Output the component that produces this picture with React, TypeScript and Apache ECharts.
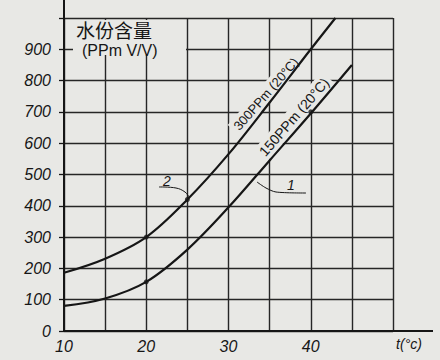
import React, { useEffect, useRef } from "react";
import * as echarts from "echarts";

// curve 2 : 300PPm (20°C)
const tempUpper = [10, 15, 20, 25, 30, 35, 40, 43];
const valueUpper = [186, 231, 300, 420, 565, 730, 900, 1000];
// curve 1 : 150PPm (20°C)
const tempLower = [10, 15, 20, 25, 30, 35, 40, 45];
const valueLower = [80, 104, 157, 260, 395, 545, 695, 850];
// marked points on the curves
const dotsTemp = [20, 25, 20, 40];
const dotsValue = [300, 420, 157, 700];

const xTicks = [10, 20, 30, 40];
const yTicks = [0, 100, 200, 300, 400, 500, 600, 700, 800, 900];

const titleLine1 = "水份含量";
const titleLine2 = "(PPm V/V)";
const upperLabel = "300PPm (20°C)";
const lowerLabel = "150PPm (20°C)";
const xName = "t(°c)";

const PAPER = "#e8e8e5";
const INK = "#161616";
const FONT = "'Liberation Sans', 'DejaVu Sans', sans-serif";

export default function App() {
  const ref = useRef<HTMLDivElement>(null);
  useEffect(() => {
    if (!ref.current) return;
    const chart = echarts.init(ref.current, undefined, { renderer: "svg" });
    const pairs = (xs: number[], ys: number[]) => xs.map((x, i) => [x, ys[i]]);
    chart.setOption({
      animation: false,
      backgroundColor: PAPER,
      grid: { left: 64, right: 47, top: 18, bottom: 29 },
      xAxis: {
        type: "value",
        min: 10,
        max: 50,
        interval: 5,
        axisLine: { show: true, lineStyle: { color: INK, width: 2 } },
        axisTick: { show: false },
        axisLabel: {
          margin: 7,
          color: INK,
          fontSize: 16,
          fontStyle: "italic",
          fontFamily: FONT,
          formatter: (v: number) => (xTicks.includes(v) ? String(v) : ""),
        },
        splitLine: { show: true, lineStyle: { color: "#262626", width: 1.4 } },
      },
      yAxis: {
        type: "value",
        min: 0,
        max: 1000,
        interval: 100,
        axisLine: { show: true, lineStyle: { color: INK, width: 2 } },
        axisTick: { show: true, inside: false, length: 5, lineStyle: { color: INK, width: 1.3 } },
        axisLabel: {
          margin: 13,
          color: INK,
          fontSize: 16,
          fontStyle: "italic",
          fontFamily: FONT,
          formatter: (v: number) => (yTicks.includes(v) ? String(v) : ""),
        },
        splitLine: { show: true, lineStyle: { color: "#262626", width: 1.4 } },
      },
      series: [
        {
          type: "line",
          data: pairs(tempUpper, valueUpper),
          smooth: 0.35,
          showSymbol: false,
          symbol: "none",
          lineStyle: { color: INK, width: 2.2 },
          z: 3,
        },
        {
          type: "line",
          data: pairs(tempLower, valueLower),
          smooth: 0.35,
          showSymbol: false,
          symbol: "none",
          lineStyle: { color: INK, width: 2.2 },
          z: 3,
        },
        {
          type: "scatter",
          data: pairs(dotsTemp, dotsValue),
          symbolSize: 5,
          itemStyle: { color: INK },
          z: 4,
        },
      ],
      graphic: [
        { type: "line", z: 5, shape: { x1: 64, y1: 0, x2: 64, y2: 18 }, style: { stroke: INK, lineWidth: 2 } },
        { type: "line", z: 5, shape: { x1: 393, y1: 331, x2: 433, y2: 331 }, style: { stroke: INK, lineWidth: 2 } },
        { type: "rect", z: 1, shape: { x: 73, y: 20, width: 113, height: 35 }, style: { fill: PAPER } },
        {
          type: "text", z: 6, x: 76, y: 29,
          style: {
            text: titleLine1, fill: INK, font: `19px 'Noto Sans CJK SC', sans-serif`,
            verticalAlign: "middle", lineHeight: 19,
          },
        },
        {
          type: "text", z: 6, x: 82, y: 50,
          style: { text: titleLine2, fill: INK, font: `16px ${FONT}`, verticalAlign: "middle", lineHeight: 16 },
        },
        {
          type: "text", z: 1, x: 266, y: 94, rotation: (49 * Math.PI) / 180,
          style: {
            text: upperLabel, fill: INK, font: `13px ${FONT}`, align: "center", verticalAlign: "middle",
            backgroundColor: PAPER, padding: [2, 3],
          },
        },
        {
          type: "text", z: 1, x: 294, y: 117, rotation: (49 * Math.PI) / 180,
          style: {
            text: lowerLabel, fill: INK, font: `14px ${FONT}`, align: "center", verticalAlign: "middle",
            backgroundColor: PAPER, padding: [2, 3],
          },
        },
        {
          type: "text", z: 6, x: 167, y: 181,
          style: { text: "2", fill: INK, font: `italic 14px ${FONT}`, align: "center", verticalAlign: "middle" },
        },
        {
          type: "polyline", z: 6,
          shape: { points: [[159, 187], [176, 188], [185, 192], [189, 197]], smooth: 0.4 },
          style: { stroke: INK, lineWidth: 1, fill: null },
        },
        {
          type: "text", z: 6, x: 291, y: 185,
          style: { text: "1", fill: INK, font: `italic 14px ${FONT}`, align: "center", verticalAlign: "middle" },
        },
        {
          type: "polyline", z: 6,
          shape: { points: [[257, 182], [266, 188], [276, 192], [306, 193]], smooth: 0.3 },
          style: { stroke: INK, lineWidth: 1, fill: null },
        },
        {
          type: "text", z: 6, x: 409, y: 344,
          style: { text: xName, fill: INK, font: `italic 14px ${FONT}`, align: "center", verticalAlign: "middle" },
        },
      ],
    });
    return () => chart.dispose();
  }, []);
  return (
    <div
      ref={ref}
      style={{ position: "absolute", left: 0, top: 0, width: 440, height: 360 }}
    />
  );
}
